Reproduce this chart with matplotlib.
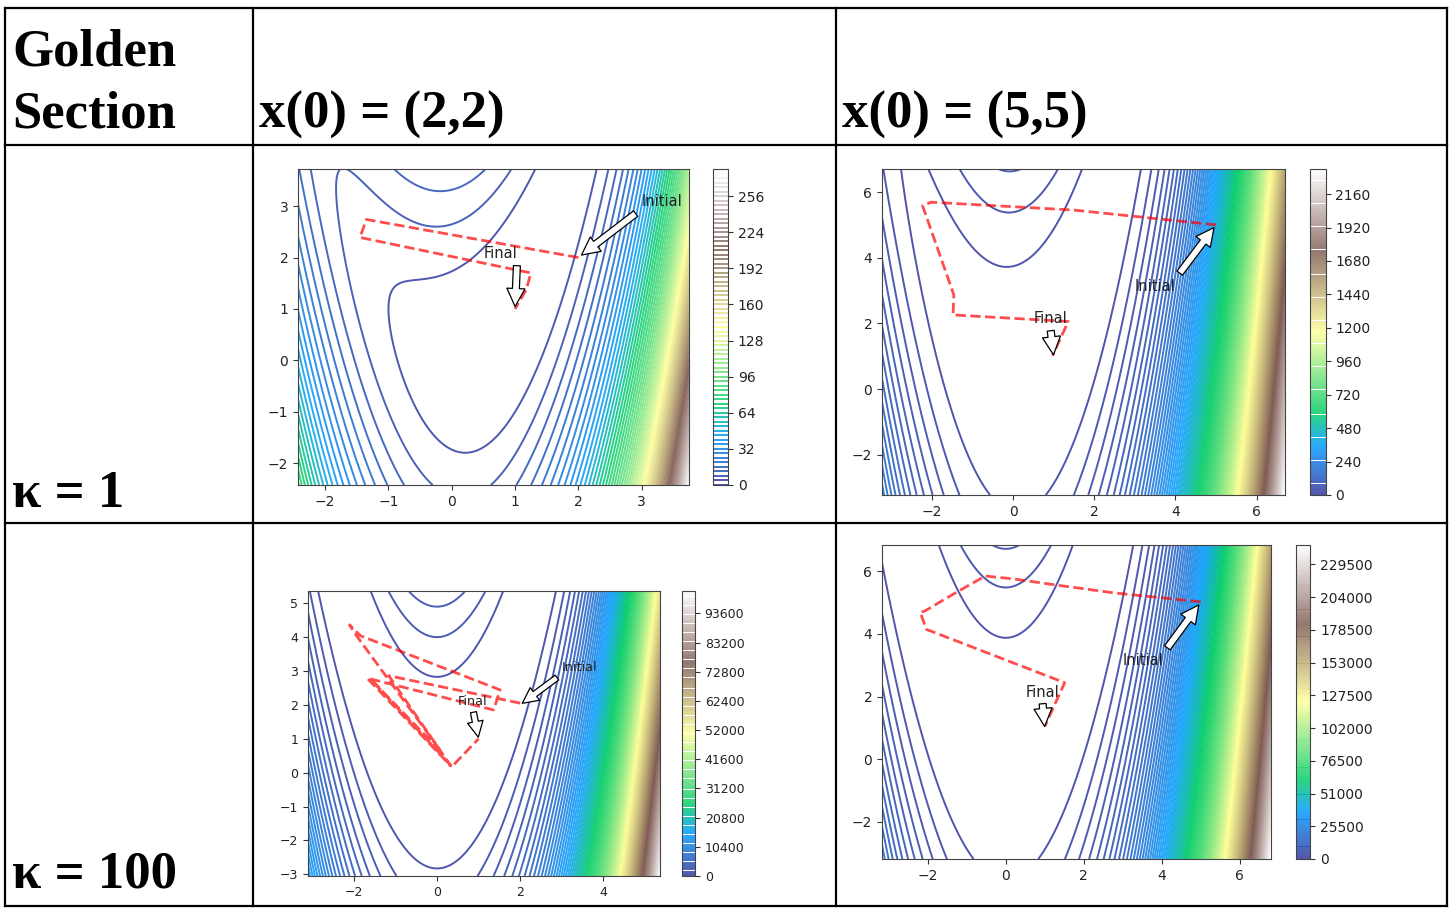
import numpy as np
import matplotlib
matplotlib.use("Agg")
import matplotlib.pyplot as plt

W, H = 1456, 916

# ---- data ----
kappas = [1, 1, 100, 100]
starts = [(2, 2), (5, 5), (2, 2), (5, 5)]
xlims = [(-2.43, 3.75), (-3.23, 6.70), (-3.10, 5.36), (-3.18, 6.82)]
ylims = [(-2.42, 3.72), (-3.22, 6.70), (-3.05, 5.36), (-3.18, 6.83)]
level_steps = [4, 15, 800, 1500]
level_tops = [280, 2340, 101600, 244500]
xticks = [[-2, -1, 0, 1, 2, 3], [-2, 0, 2, 4, 6], [-2, 0, 2, 4], [-2, 0, 2, 4, 6]]
yticks = [[-2, -1, 0, 1, 2, 3], [-2, 0, 2, 4, 6], [-3, -2, -1, 0, 1, 2, 3, 4, 5], [-2, 0, 2, 4, 6]]

path1_x = [2.0, -1.35, -1.45, 1.25, 1.18, 1.0]
path1_y = [2.0, 2.74, 2.39, 1.70, 1.38, 1.0]
path2_x = [5.0, 1.5, -2.02, -2.23, -1.46, -1.48, 1.36, 0.97]
path2_y = [5.0, 5.45, 5.69, 5.58, 2.87, 2.26, 2.06, 1.02]
path3_x = [2.0, -1.16, 0.33, -1.68, 1.36, 1.52, -1.84, -2.10, -1.97, 0.10, -1.58, 0.36, 1.0]
path3_y = [2.05, 2.86, 0.20, 2.79, 1.85, 2.44, 4.04, 4.36, 4.10, 0.62, 2.74, 0.18, 1.0]
path4_x = [5.0, 2.8, 1.2, 0.2, -0.53, -1.3, -2.09, -2.2, -2.04, 1.51, 1.0]
path4_y = [5.02, 5.30, 5.57, 5.75, 5.84, 5.30, 4.72, 4.69, 4.14, 2.44, 1.05]
paths_x = [path1_x, path2_x, path3_x, path4_x]
paths_y = [path1_y, path2_y, path3_y, path4_y]

final_pt = (1, 1)
initial_text_pos = (3, 3)
final_text_pos = (0.5, 2)

# pixel rects: left, top, right, bottom
ax_px = [(298, 169, 689, 485), (882, 169, 1285, 495), (308, 591, 660, 876), (882, 545, 1271.5, 859)]
cb_px = [(713, 169, 728, 485), (1310, 169, 1325.5, 495), (682, 591, 695, 876), (1295.5, 545, 1310.5, 859)]
fsz = [10, 10, 9, 10]
afsz = [10.5, 10.5, 9.2, 10.5]
arrow_scale = [1.0, 1.0, 0.87, 1.0]

fig = plt.figure(figsize=(W / 100, H / 100), dpi=100)


def rect(p):
    l, t, r, b = p
    return [l / W, 1 - b / H, (r - l) / W, (b - t) / H]


# ---- table lines ----
xs_v = [5, 253, 836, 1447]
ys_h = [8, 145, 523, 906]
for xv in xs_v:
    fig.add_artist(plt.Line2D([xv / W, xv / W], [1 - ys_h[0] / H, 1 - ys_h[-1] / H],
                              color="black", lw=1.6, transform=fig.transFigure))
for yh in ys_h:
    fig.add_artist(plt.Line2D([xs_v[0] / W, xs_v[-1] / W], [1 - yh / H, 1 - yh / H],
                              color="black", lw=1.6, transform=fig.transFigure))

serif = dict(family="Liberation Serif", weight="bold", fontsize=38, color="black")


def ftext(px, py, s, **kw):
    fig.text(px / W, 1 - py / H, s, ha="left", va="baseline", **kw)


ftext(12, 65, "Golden", **serif)
ftext(12, 128, "Section", **serif)
ftext(259, 128, "x(0) = (2,2)", **serif)
ftext(842, 128, "x(0) = (5,5)", **serif)
ftext(12, 507, "κ = 1", **serif)
ftext(12, 888, "κ = 100", **serif)

# ---- contour panels ----
for i in range(4):
    ax = fig.add_axes(rect(ax_px[i]))
    cax = fig.add_axes(rect(cb_px[i]))
    k = kappas[i]
    gx = np.linspace(xlims[i][0], xlims[i][1], 500)
    gy = np.linspace(ylims[i][0], ylims[i][1], 500)
    X, Y = np.meshgrid(gx, gy)
    Z = k * (Y - X ** 2) ** 2 + (1 - X) ** 2
    levels = np.arange(0, level_tops[i] + level_steps[i] / 2, level_steps[i])
    cs = ax.contour(X, Y, Z, levels=levels, cmap="terrain", linewidths=1.4, alpha=0.85)
    ax.plot(paths_x[i], paths_y[i], "--", color="red", lw=2, alpha=0.7)
    s = arrow_scale[i]
    ap = dict(facecolor="white", edgecolor="black", shrink=0.05,
              width=5 * s, headwidth=13 * s, headlength=13 * s, lw=0.9)
    ax.annotate("Initial", xy=starts[i], xytext=initial_text_pos, arrowprops=ap,
                fontsize=afsz[i], color="#222222")
    ax.annotate("Final", xy=final_pt, xytext=final_text_pos, arrowprops=ap,
                fontsize=afsz[i], color="#222222")
    ax.set_xlim(*xlims[i])
    ax.set_ylim(*ylims[i])
    ax.set_xticks(xticks[i])
    ax.set_yticks(yticks[i])
    ax.tick_params(labelsize=fsz[i], colors="#333333", labelcolor="#222222")
    for sp in ax.spines.values():
        sp.set_color("#444444")
    cb = fig.colorbar(cs, cax=cax)
    cb.ax.tick_params(labelsize=fsz[i], colors="#333333", labelcolor="#222222")
    cb.outline.set_edgecolor("#444444")

fig.savefig("out.png", dpi=100)
